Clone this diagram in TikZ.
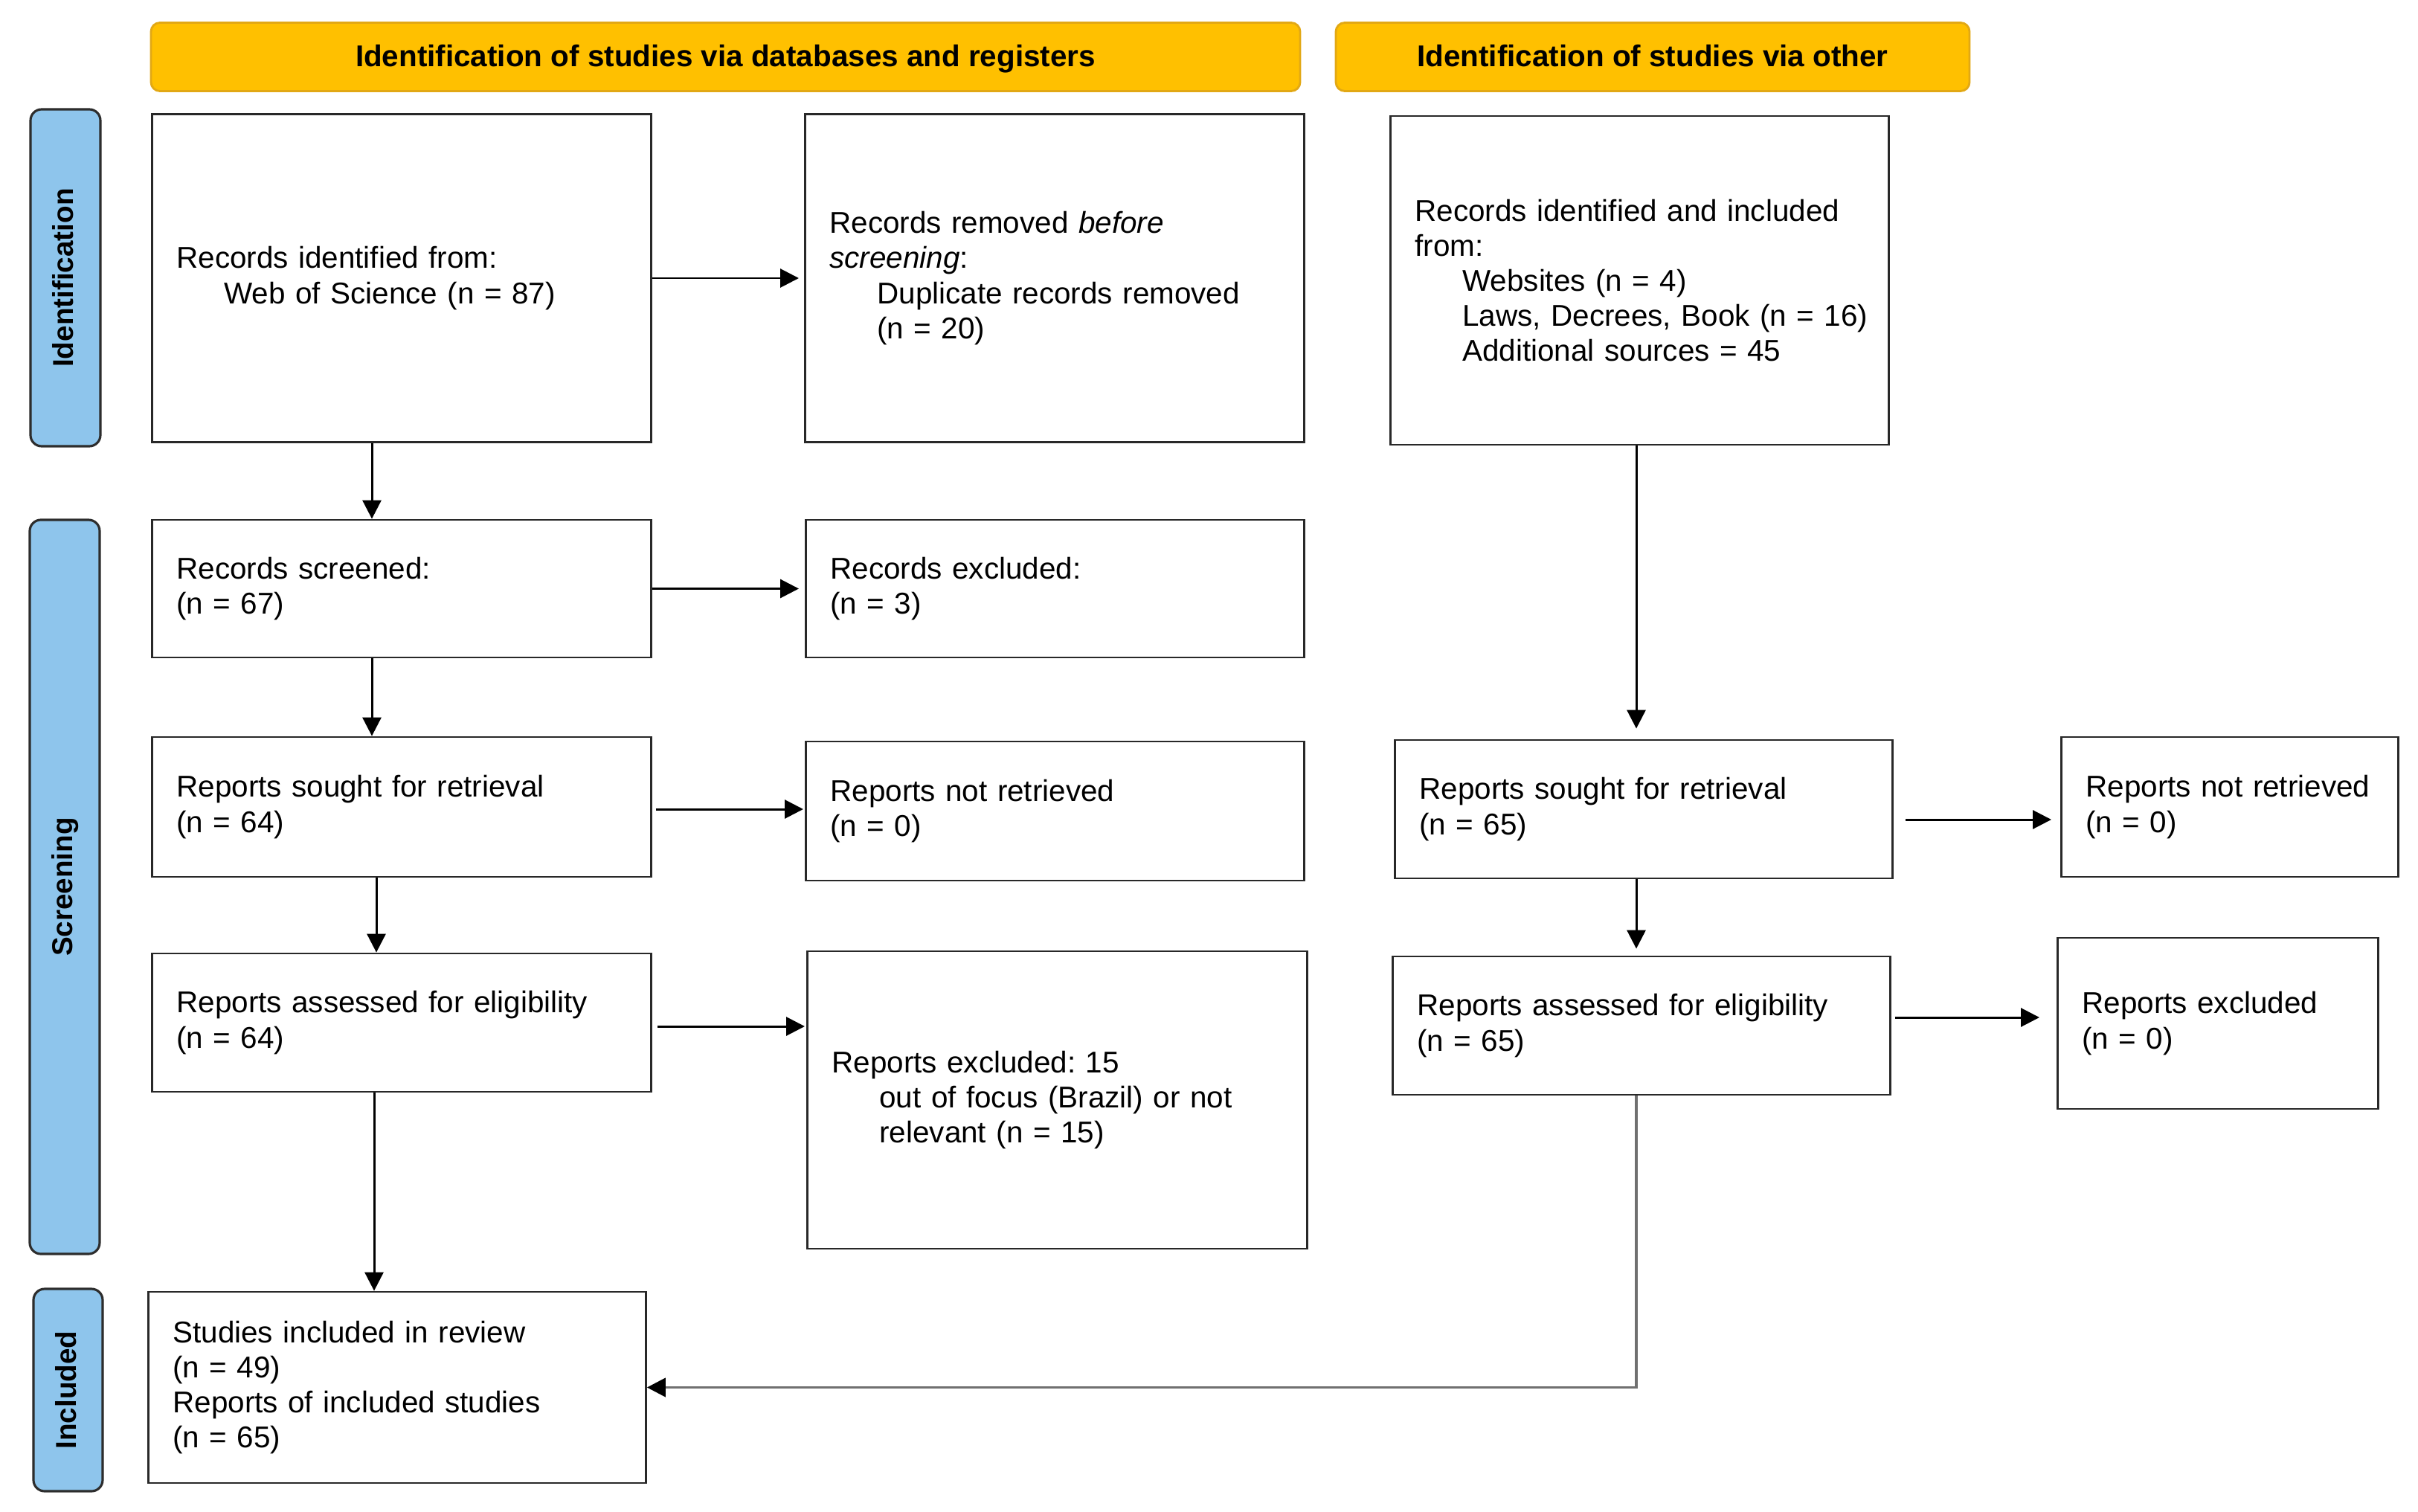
\documentclass[tikz,border=0pt]{standalone}
\usepackage{fontspec}
\setmainfont{Liberation Sans}
\frenchspacing
\usetikzlibrary{arrows.meta,calc}
\definecolor{hdrfill}{RGB}{255,192,0}
\definecolor{hdrdraw}{RGB}{226,168,20}
\definecolor{sidefill}{RGB}{142,197,236}
\definecolor{sidedraw}{RGB}{45,45,45}
\definecolor{boxdraw}{RGB}{40,40,40}
\definecolor{greyline}{RGB}{112,112,112}
\tikzset{
  box/.style={draw=boxdraw, line width=0.8pt, fill=white, anchor=west,
    inner xsep=0.33cm, inner ysep=0pt, align=left,
    font=\fontsize{11.5pt}{13.4pt}\selectfont},
  hdr/.style={draw=hdrdraw, line width=0.8pt, fill=hdrfill, rounded corners=0.12cm,
    inner sep=0pt, align=center, text height=0.72em, text depth=0em,
    font=\fontsize{11.5pt}{13.4pt}\selectfont\bfseries},
  side/.style={draw=sidedraw, line width=0.9pt, fill=sidefill, rounded corners=0.15cm,
    inner sep=0pt, rotate=90, align=center, text height=0.72em, text depth=0.1em,
    font=\fontsize{11pt}{13pt}\selectfont\bfseries},
  arr/.style={line width=0.85pt, black, -{Triangle[length=0.25cm,width=0.25cm]}},
  garr/.style={line width=1.1pt, greyline, -{Triangle[length=0.25cm,width=0.25cm,color=black]}},
}
\newcommand{\ind}{\hspace*{0.64cm}}
\begin{document}
\begin{tikzpicture}
\useasboundingbox (0,0) rectangle (32.51,-20.33);

% headers
\node[hdr, minimum width=15.45cm, minimum height=0.92cm] (h1) at (9.755,-0.765)
  {Identification of studies via databases and registers};
\node[hdr, minimum width=8.52cm, minimum height=0.92cm] (h2) at (22.22,-0.765)
  {Identification of studies via other};

% side labels
\node[side, minimum width=4.53cm, minimum height=0.94cm] (s1) at (0.88,-3.735) {Identification};
\node[side, minimum width=9.87cm, minimum height=0.94cm] (s2) at (0.87,-11.925) {Screening};
\node[side, minimum width=2.72cm, minimum height=0.93cm] (s3) at (0.915,-18.69) {Included};

% boxes
\node[box, text width=6.05cm, minimum height=4.415cm] (A) at (2.03,-3.74)
  {Records identified from:\\\ind Web of Science (n = 87)};
\node[box, text width=6.05cm, minimum height=4.415cm] (B) at (10.81,-3.74)
  {Records removed \textit{before}\\\textit{screening}:\\\ind Duplicate records removed\\\ind (n = 20)};
\node[box, text width=6.04cm, minimum height=4.42cm] (C) at (18.68,-3.77)
  {\mbox{Records identified and included}\\from:\\\ind Websites (n = 4)\\\ind \mbox{Laws, Decrees, Book (n = 16)}\\\ind Additional sources = 45};

\node[box, text width=6.05cm, minimum height=1.85cm] (D) at (2.03,-7.915)
  {Records screened:\\(n = 67)};
\node[box, text width=6.04cm, minimum height=1.85cm] (E) at (10.82,-7.915)
  {Records excluded:\\(n = 3)};

\node[box, text width=6.05cm, minimum height=1.88cm] (F) at (2.03,-10.85)
  {Reports sought for retrieval\\(n = 64)};
\node[box, text width=6.04cm, minimum height=1.87cm] (G) at (10.82,-10.905)
  {Reports not retrieved\\(n = 0)};
\node[box, text width=6.03cm, minimum height=1.86cm] (H) at (18.74,-10.88)
  {Reports sought for retrieval\\(n = 65)};
\node[box, text width=3.87cm, minimum height=1.88cm] (I) at (27.70,-10.85)
  {Reports not retrieved\\(n = 0)};

\node[box, text width=6.05cm, minimum height=1.86cm] (J) at (2.03,-13.75)
  {Reports assessed for eligibility\\(n = 64)};
\node[box, text width=6.06cm, minimum height=4.0cm] (K) at (10.84,-14.79)
  {Reports excluded: 15\\\ind out of focus (Brazil) or not\\\ind relevant (n = 15)};
\node[box, text width=6.03cm, minimum height=1.86cm] (L) at (18.71,-13.79)
  {Reports assessed for eligibility\\(n = 65)};
\node[box, text width=3.65cm, minimum height=2.30cm] (M) at (27.65,-13.76)
  {Reports excluded\\(n = 0)};

\node[box, text width=6.03cm, minimum height=2.57cm] (N) at (1.98,-18.655)
  {Studies included in review\\(n = 49)\\Reports of included studies\\(n = 65)};

% x positions of vertical connectors
\coordinate (xa) at (5.00,0);
\coordinate (xb) at (5.06,0);
\coordinate (xc) at (5.03,0);
\coordinate (xr) at (22.00,0);

% left column
\draw[arr] (A.south -| xa) -- (D.north -| xa);
\draw[arr] (D.south -| xa) -- (F.north -| xa);
\draw[arr] (F.south -| xb) -- (J.north -| xb);
\draw[arr] (J.south -| xc) -- (N.north -| xc);

\draw[arr, shorten >=0.07cm] (A.east) -- (A.east -| B.west);
\draw[arr, shorten >=0.08cm] (D.east) -- (D.east -| E.west);
\draw[arr] ($(F.east)+(0.05,-0.03)$) -- ($(F.east -| G.west)+(-0.02,-0.03)$);
\draw[arr] ($(J.east)+(0.07,-0.05)$) -- ($(J.east -| K.west)+(-0.02,-0.05)$);

% right column
\draw[arr, shorten >=0.14cm] (C.south -| xr) -- (H.north -| xr);
\draw[arr, shorten >=0.09cm] (H.south -| xr) -- (L.north -| xr);
\draw[arr] ($(H.east)+(0.16,-0.14)$) -- ($(H.east -| I.west)+(-0.12,-0.14)$);
\draw[arr] ($(L.east)+(0.05,0.11)$) -- ($(L.east -| M.west)+(-0.23,0.11)$);

\draw[garr] (L.south -| xr) |- (N.east);
\end{tikzpicture}
\end{document}
